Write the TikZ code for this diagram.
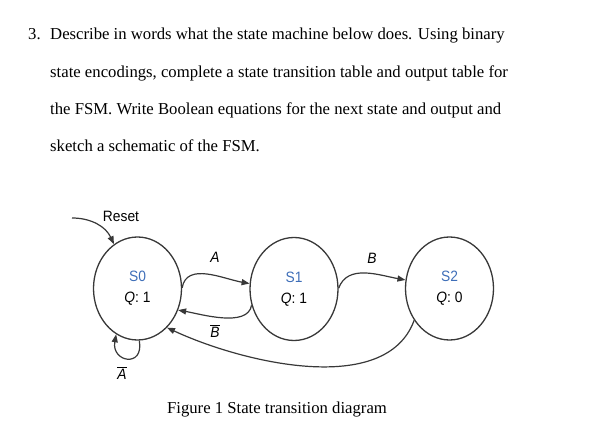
\documentclass[tikz,border=0pt]{standalone}
\usepackage{fontspec}
\setmainfont{Liberation Serif}
\newfontfamily\diagfont[FakeStretch=0.92]{Liberation Sans}
\usepackage{tikz}
\usetikzlibrary{arrows.meta, shapes}
\tikzset{>={Triangle[length=8pt, width=6pt]}}
\definecolor{statename}{HTML}{3E6EB8}
\definecolor{edge}{HTML}{383838}

\begin{document}
\begin{tikzpicture}
    [x=1pt, y=1pt,
     state/.style={draw=edge, line width=1.3pt, ellipse, minimum width=88pt, minimum height=103pt,
                   inner sep=0pt, align=center, font=\diagfont\fontsize{15}{21}\selectfont},
     lbl/.style={font=\diagfont\fontsize{15}{17}\selectfont, inner sep=1pt},
     txt/.style={anchor=base west, inner sep=0pt, font=\fontsize{16.7}{19}\selectfont},
     trans/.style={->, draw=edge, line width=1.2pt}]
    \useasboundingbox (0,0) rectangle (589,-433);

    % question text
    \node[txt] (num) at (28,-40) {3.};
    \node[txt] (l1) at (50,-40) {Describe in words what the state machine below does. Using binary};
    \node[txt] (l2) at (50,-78) {state encodings, complete a state transition table and output table for};
    \node[txt] (l3) at (50,-115) {the FSM. Write Boolean equations for the next state and output and};
    \node[txt] (l4) at (50,-152) {sketch a schematic of the FSM.};

    % states
    \node[state] (S0) at (137.5,-288.5) {\textcolor{statename}{S0}\\ \textit{Q}: 1};
    \node[state] (S1) at (294,-289) {\textcolor{statename}{S1}\\ \textit{Q}: 1};
    \node[state] (S2) at (449.5,-288.5) {\textcolor{statename}{S2}\\ \textit{Q}: 0};

    \coordinate (rst) at (72,-218);
    \draw[trans] (rst) to[out=0, in=115] (S0.118);
    \node[lbl] (reset) at (121,-216) {Reset};

    \draw[trans] (S0.1) to[out=80, in=170] (S1.173);
    \node[lbl] (a) at (215,-257) {\textit{A}};

    \draw[trans] (S1.201) to[out=260, in=-10, looseness=0.8] (S0.-28);
    \node[lbl] (nb) at (215,-331) {$\overline{\hbox{\itshape B}}$};

    \draw[trans] (S1.1) to[out=70, in=170] (S2.169);
    \node[lbl] (b) at (372,-258) {\textit{B}};

    \draw[trans] (S2.222) to[out=250, in=-25, looseness=0.85] (S0.-53);

    \draw[trans] (S0.-88) to[out=-80, in=-100, looseness=3] (S0.-115);
    \node[lbl] (na) at (122,-373) {$\overline{\hbox{\itshape A}}$};

    % caption
    \node[anchor=base, inner sep=0pt, font=\fontsize{16.7}{19}\selectfont] (cap) at (277,-413)
        {Figure 1 State transition diagram};
\end{tikzpicture}
\end{document}
